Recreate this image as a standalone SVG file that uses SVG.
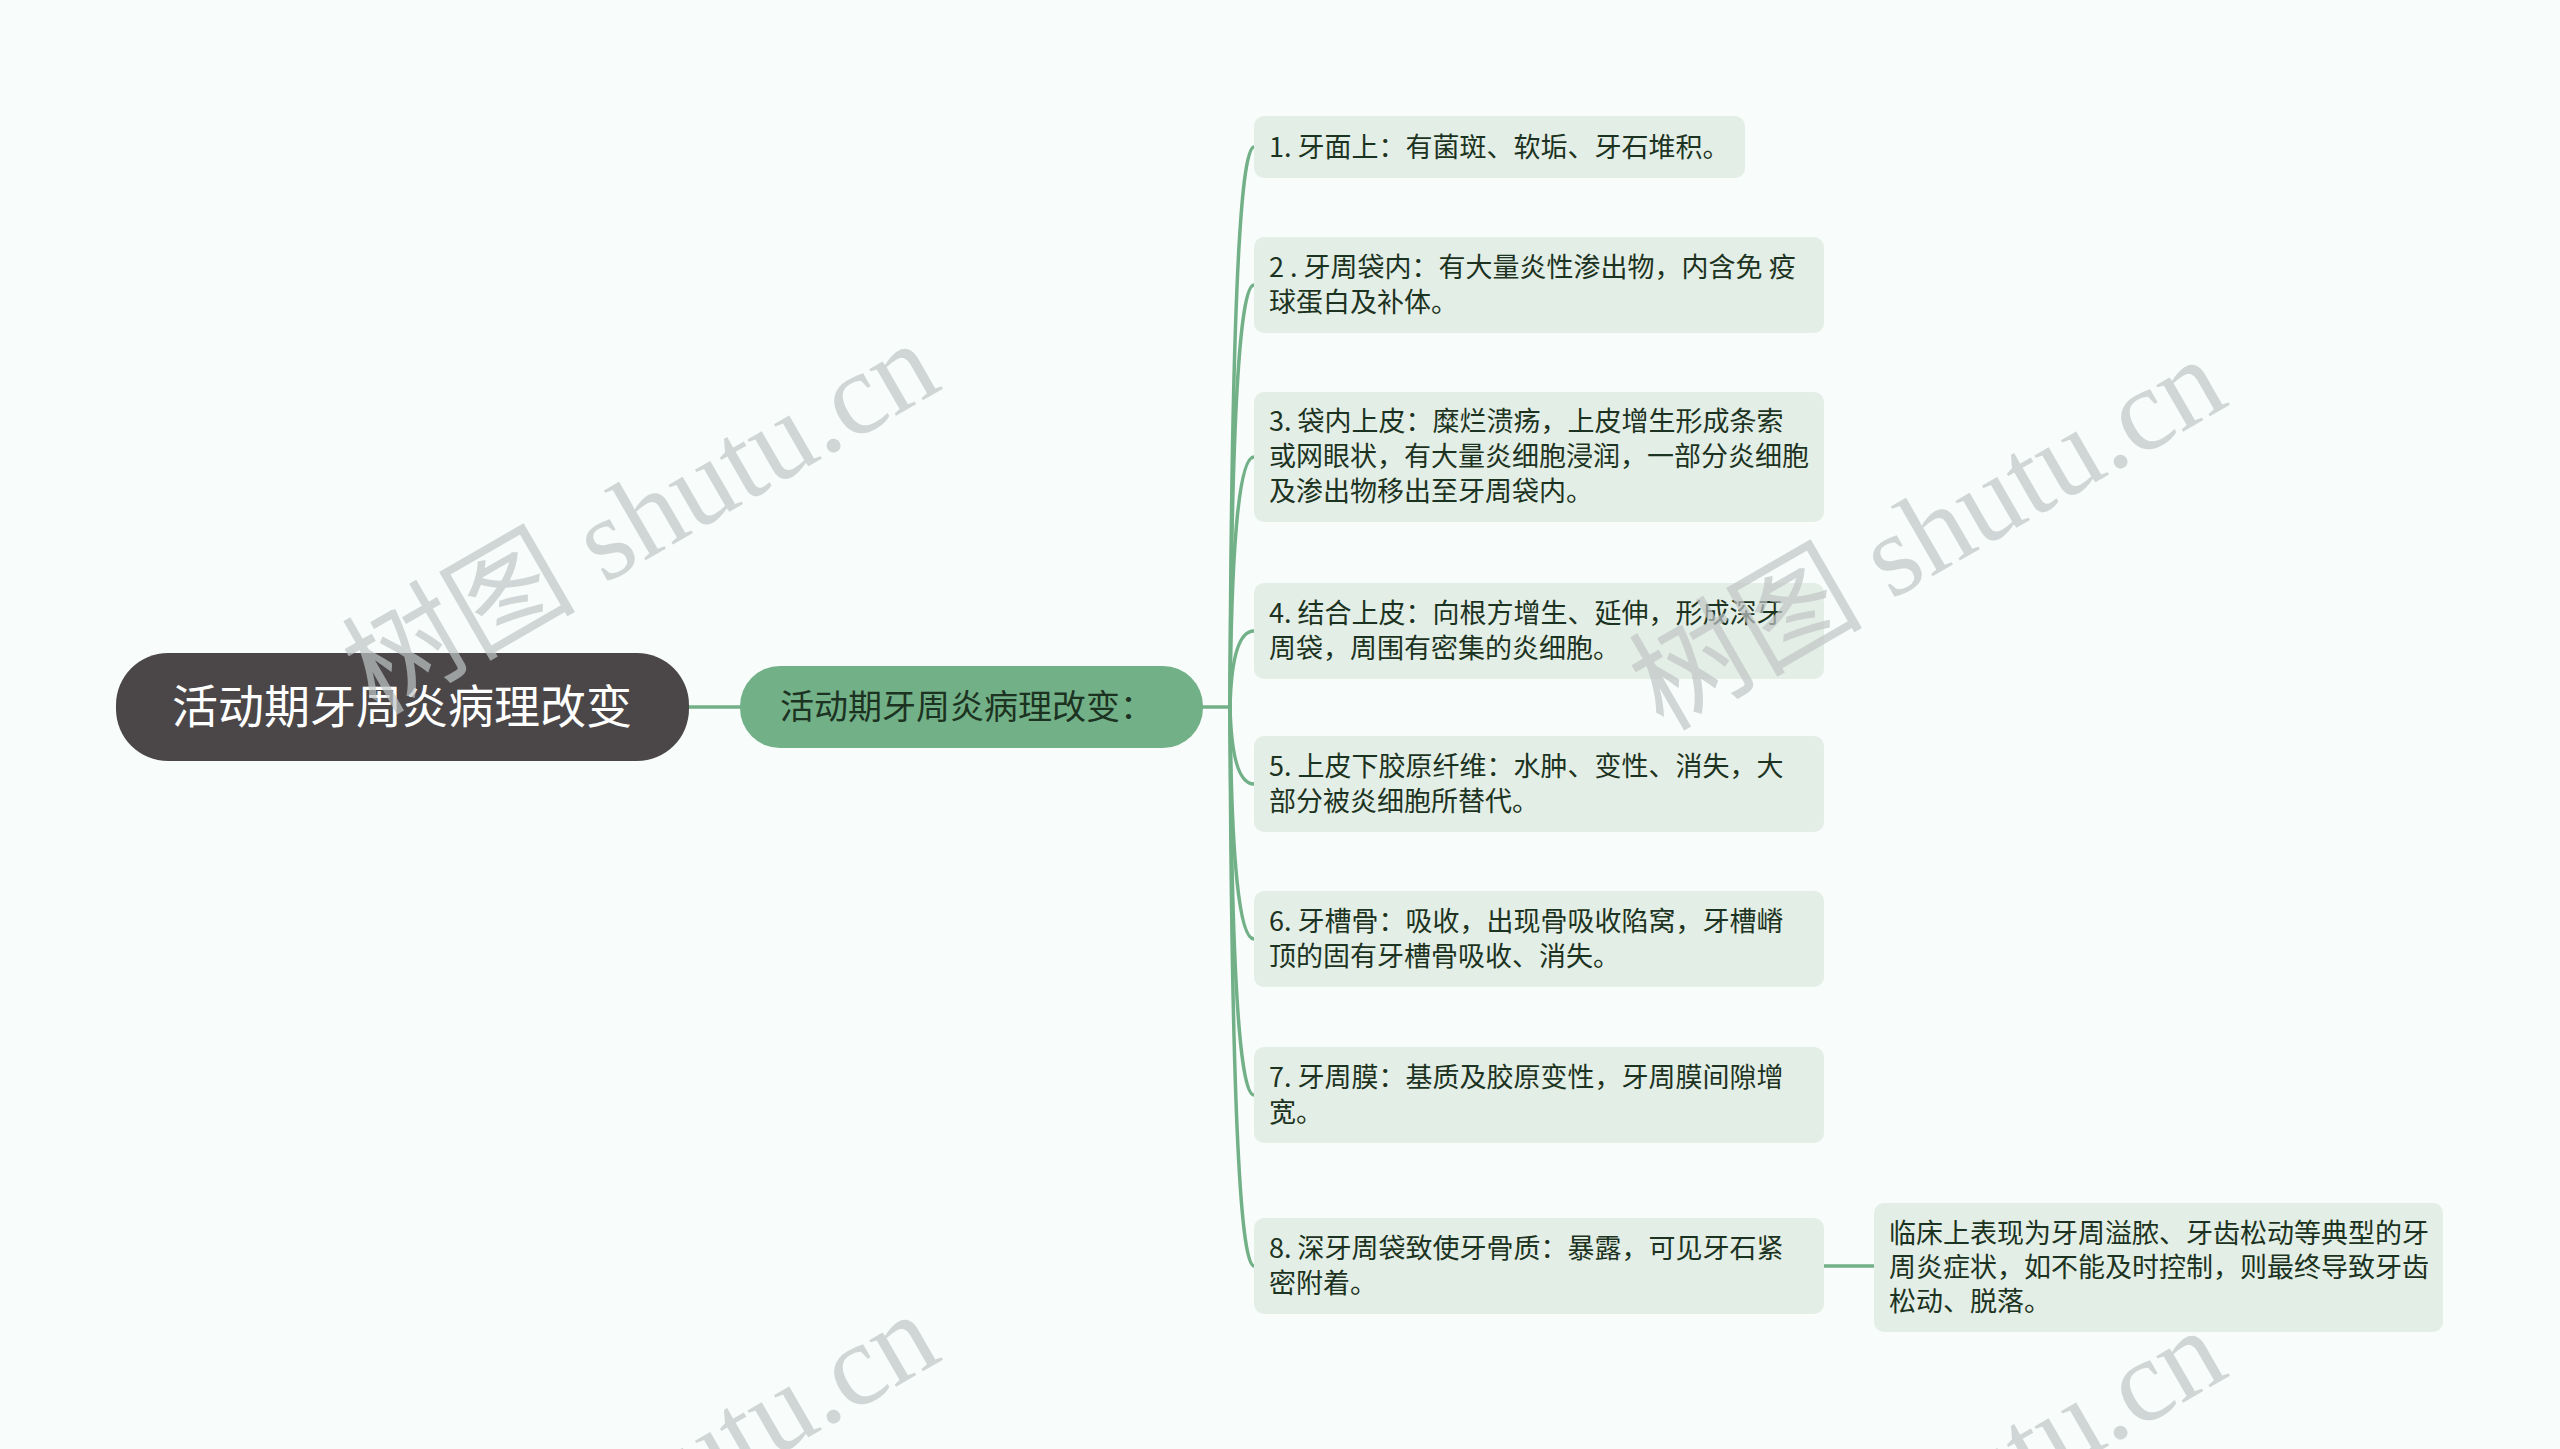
<svg xmlns="http://www.w3.org/2000/svg" width="2560" height="1449" viewBox="0 0 2560 1449">
<style>
.bg{fill:#f8fcfb}
.wm{font-family:"Liberation Serif","Noto Sans CJK SC",serif;font-size:117px;fill:#bfc4c4;fill-opacity:0.7}
.root{fill:#4b4748}
.main{fill:#72b087}
.child{fill:#e3eee6}
.t{font-family:"Noto Sans CJK SC","Noto Sans",sans-serif;font-size:27px;fill:#1d3322}
.rt{font-family:"Noto Sans CJK SC","Noto Sans",sans-serif;font-size:46px;fill:#ffffff}
.mt{font-family:"Noto Sans CJK SC","Noto Sans",sans-serif;font-size:34px;fill:#1d3322}
.c{fill:none;stroke:#72b087;stroke-width:3.5;stroke-linecap:round}
</style>
<rect class="bg" x="0" y="0" width="2560" height="1449"/>
<g id="connectors">
<path class="c" d="M689 707 L740 707"/>
<path class="c" d="M1203 707 L1230 707"/>
<path class="c" d="M1230 707 Q1232 147 1254 147"/>
<path class="c" d="M1230 707 Q1232 285 1254 285"/>
<path class="c" d="M1230 707 Q1232 457 1254 457"/>
<path class="c" d="M1230 707 Q1232 631 1254 631"/>
<path class="c" d="M1230 707 Q1232 784 1254 784"/>
<path class="c" d="M1230 707 Q1232 939 1254 939"/>
<path class="c" d="M1230 707 Q1232 1095 1254 1095"/>
<path class="c" d="M1230 707 Q1232 1266 1254 1266"/>
<path class="c" d="M1824 1266 L1874 1266"/>
</g>
<g id="root">
<rect class="root" x="116" y="653" width="573" height="108" rx="52"/>
<text class="rt" x="402" y="723" text-anchor="middle">活动期牙周炎病理改变</text>
</g>
<g id="main">
<rect class="main" x="740" y="666" width="463" height="82" rx="40"/>
<text class="mt" x="780" y="719">活动期牙周炎病理改变：</text>
</g>
<g id="n1">
<rect class="child" x="1254" y="116" width="491" height="62" rx="10"/>
<text class="t" x="1269" y="157">1. 牙面上：有菌斑、软垢、牙石堆积。</text>
</g>
<g id="n2">
<rect class="child" x="1254" y="237" width="570" height="96" rx="10"/>
<text class="t" x="1269" y="277">2 . 牙周袋内：有大量炎性渗出物，内含免 疫</text>
<text class="t" x="1269" y="312">球蛋白及补体。</text>
</g>
<g id="n3">
<rect class="child" x="1254" y="392" width="570" height="130" rx="10"/>
<text class="t" x="1269" y="431">3. 袋内上皮：糜烂溃疡，上皮增生形成条索</text>
<text class="t" x="1269" y="466">或网眼状，有大量炎细胞浸润，一部分炎细胞</text>
<text class="t" x="1269" y="501">及渗出物移出至牙周袋内。</text>
</g>
<g id="n4">
<rect class="child" x="1254" y="583" width="570" height="96" rx="10"/>
<text class="t" x="1269" y="623">4. 结合上皮：向根方增生、延伸，形成深牙</text>
<text class="t" x="1269" y="658">周袋，周围有密集的炎细胞。</text>
</g>
<g id="n5">
<rect class="child" x="1254" y="736" width="570" height="96" rx="10"/>
<text class="t" x="1269" y="776">5. 上皮下胶原纤维：水肿、变性、消失，大</text>
<text class="t" x="1269" y="811">部分被炎细胞所替代。</text>
</g>
<g id="n6">
<rect class="child" x="1254" y="891" width="570" height="96" rx="10"/>
<text class="t" x="1269" y="931">6. 牙槽骨：吸收，出现骨吸收陷窝，牙槽嵴</text>
<text class="t" x="1269" y="966">顶的固有牙槽骨吸收、消失。</text>
</g>
<g id="n7">
<rect class="child" x="1254" y="1047" width="570" height="96" rx="10"/>
<text class="t" x="1269" y="1087">7. 牙周膜：基质及胶原变性，牙周膜间隙增</text>
<text class="t" x="1269" y="1122">宽。</text>
</g>
<g id="n8">
<rect class="child" x="1254" y="1218" width="570" height="96" rx="10"/>
<text class="t" x="1269" y="1258">8. 深牙周袋致使牙骨质：暴露，可见牙石紧</text>
<text class="t" x="1269" y="1293">密附着。</text>
</g>
<g id="leaf">
<rect class="child" x="1874" y="1203" width="569" height="129" rx="10"/>
<text class="t" x="1889" y="1243">临床上表现为牙周溢脓、牙齿松动等典型的牙</text>
<text class="t" x="1889" y="1277">周炎症状，如不能及时控制，则最终导致牙齿</text>
<text class="t" x="1889" y="1311">松动、脱落。</text>
</g>
<g id="watermarks">
<text class="wm" transform="translate(376,716) rotate(-30)">树图 shutu.cn</text>
<text class="wm" transform="translate(1663,732) rotate(-30)">树图 shutu.cn</text>
<text class="wm" transform="translate(376,1687) rotate(-30)">树图 shutu.cn</text>
<text class="wm" transform="translate(1663,1703) rotate(-30)">树图 shutu.cn</text>
</g>
</svg>
